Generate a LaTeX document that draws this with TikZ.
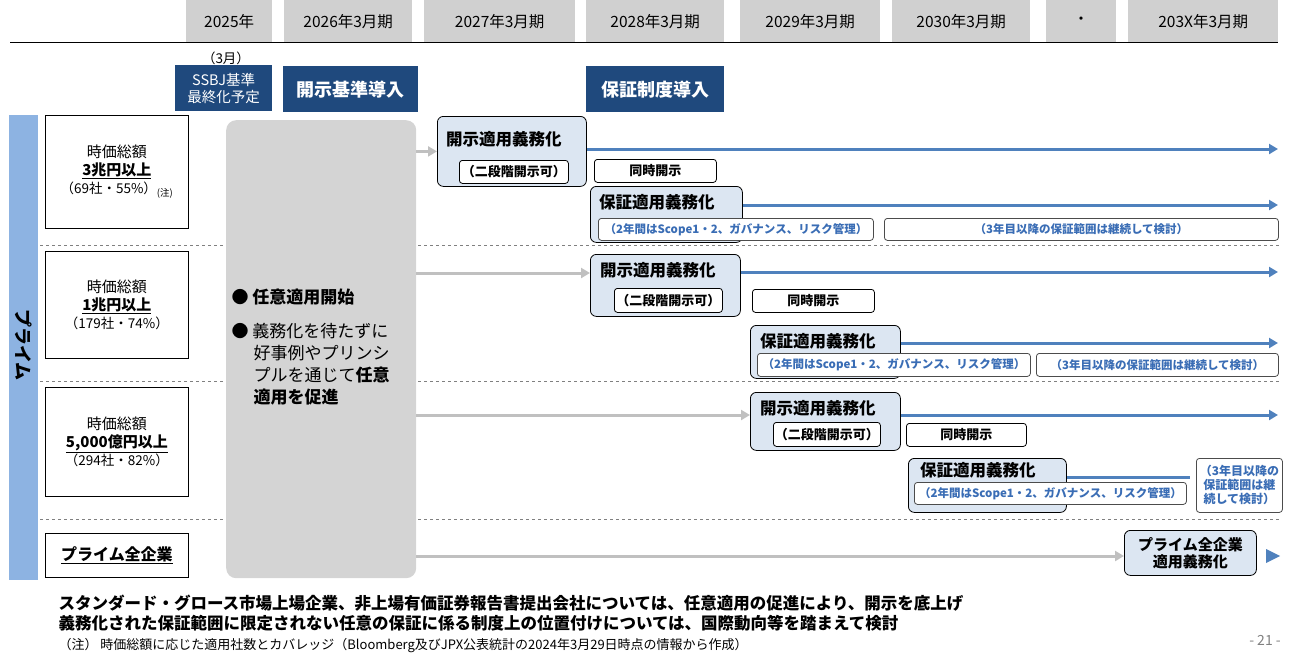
\documentclass[tikz,border=0pt]{standalone}
\usepackage{fontspec}
\setmainfont{Noto Sans CJK JP}
\usetikzlibrary{positioning,arrows.meta}
\definecolor{hdrgray}{HTML}{D0D0D0}
\definecolor{navy}{HTML}{1F497D}
\definecolor{barblue}{HTML}{8DB3E2}
\definecolor{boxblue}{HTML}{DCE6F2}
\definecolor{lineblue}{HTML}{4F81BD}
\definecolor{txtblue}{HTML}{3A6DB5}
\definecolor{arrgray}{HTML}{C0C0C0}
\tikzset{x=1pt, y=-1pt}
\tikzset{hdr/.style={fill=hdrgray,anchor=north west,inner sep=0pt,font=\fontsize{15.5}{17}\selectfont}}
\tikzset{navybox/.style={fill=navy,text=white,anchor=north west,inner sep=0pt,align=center}}
\tikzset{rowbox/.style={draw,thick,fill=white,anchor=north west,inner sep=0pt,align=center,font=\fontsize{15}{18}\selectfont}}
\tikzset{duty/.style={draw,thick,fill=boxblue,rounded corners=6pt,anchor=north west,inner sep=0pt,font=\bfseries\fontsize{16.5}{18}\selectfont}}
\tikzset{title/.style={anchor=north west,inner sep=0pt,font=\bfseries\fontsize{16.5}{18}\selectfont}}
\tikzset{tag/.style={draw,thick,fill=white,rounded corners=3pt,anchor=north west,inner sep=0pt,font=\bfseries\fontsize{13}{15}\selectfont}}
\tikzset{btag/.style={tag,draw=black!70,text=txtblue,font=\bfseries\fontsize{11.5}{13}\selectfont}}
\tikzset{grayarr/.style={draw=arrgray,line width=3pt,-{Triangle[length=9pt,width=10pt]}}}
\tikzset{bluearr/.style={draw=lineblue,line width=3pt,-{Triangle[length=9pt,width=10pt]}}}
\tikzset{sep/.style={draw=gray,dashed,thin}}
\begin{document}
\begin{tikzpicture}
\useasboundingbox (0,0) rectangle (1300,664);
% header
\node[hdr,minimum width=86,minimum height=42] (y25) at (186,0) {2025年};
\node[hdr,minimum width=128,minimum height=42] (y26) at (284,0) {2026年3月期};
\node[hdr,minimum width=151,minimum height=42] (y27) at (424,0) {2027年3月期};
\node[hdr,minimum width=138,minimum height=42] (y28) at (586,0) {2028年3月期};
\node[hdr,minimum width=140,minimum height=42] (y29) at (740,0) {2029年3月期};
\node[hdr,minimum width=138,minimum height=42] (y30) at (892,0) {2030年3月期};
\node[hdr,minimum width=70,minimum height=42] (ydot) at (1046,0) {・};
\node[hdr,minimum width=150,minimum height=42] (y3x) at (1128,0) {203X年3月期};
\coordinate (hl) at (10,42);
\coordinate (hr) at (1278,42);
\draw[thick] (hl) -- (hr);
% milestones
\node[font=\fontsize{13.5}{15}\selectfont] (mar) at (226,58) {（3月）};
\node[navybox,minimum width=97,minimum height=46,font=\fontsize{14.5}{17}\selectfont] (ssbj) at (175,65) {SSBJ基準\\最終化予定};
\node[navybox,minimum width=135,minimum height=46,font=\bfseries\fontsize{18}{20}\selectfont] (kaiji) at (283,66) {開示基準導入};
\node[navybox,minimum width=138,minimum height=46,font=\bfseries\fontsize{18}{20}\selectfont] (hosho) at (586,66) {保証制度導入};
% side bar
\fill[barblue] (9,115) rectangle (38,580);
\node[font=\bfseries\fontsize{18}{20}\selectfont,rotate=-90] (prime) at (24,345) {プライム};
% separators
\foreach \yy in {245,381,519} \draw[sep] (40,\yy) -- (1280,\yy);
% row labels
\node[rowbox,minimum width=143,minimum height=113] (r1) at (45,115) {時価総額\\\underline{\bfseries 3兆円以上}\\{\fontsize{13.5}{16}\selectfont （69社・55\%）\textsubscript{(注)}}};
\node[rowbox,minimum width=143,minimum height=107] (r2) at (45,251) {時価総額\\\underline{\bfseries 1兆円以上}\\{\fontsize{13.5}{16}\selectfont （179社・74\%）}};
\node[rowbox,minimum width=143,minimum height=109] (r3) at (45,387) {時価総額\\\underline{\bfseries 5,000億円以上}\\{\fontsize{13.5}{16}\selectfont （294社・82\%）}};
\node[rowbox,minimum width=143,minimum height=44,font=\bfseries\fontsize{16}{18}\selectfont] (r4) at (45,533) {\underline{プライム全企業}};
% voluntary panel
\node[fill=black!17,rounded corners=10pt,minimum width=190,minimum height=458,anchor=north west,inner sep=0pt] (panel) at (226,120) {};
\node[anchor=west,font=\bfseries\fontsize{17}{19}\selectfont] (v1) at (228,297) {●\ 任意適用開始};
\node[anchor=north west,align=left,font=\fontsize{17}{22}\selectfont] (v2) at (228,320) {●\ 義務化を待たずに\\\hspace{1.3em}好事例やプリンシ\\\hspace{1.3em}プルを通じて\textbf{任意}\\\hspace{1.3em}\textbf{適用を促進}};
% row 1
\node[duty,minimum width=149,minimum height=70] (d1) at (437,116) {};
\node[title] (d1t) at (446,131) {開示適用義務化};
\node[tag,minimum width=109,minimum height=23] (t1) at (459,160) {（二段階開示可）};
\node[tag,minimum width=122,minimum height=23] (s1) at (594,159) {同時開示};
\node[duty,minimum width=152,minimum height=56] (a1) at (590,186) {};
\node[title] (a1t) at (599,194) {保証適用義務化};
\node[btag,minimum width=275,minimum height=22] (b1) at (598,218) {（2年間はScope1・2、ガバナンス、リスク管理）};
\node[btag,minimum width=394,minimum height=22] (c1) at (884,218) {（3年目以降の保証範囲は継続して検討）};
\coordinate (e1) at (1278,149);
\coordinate (f1) at (1278,205);
\draw[grayarr] (panel.east |- d1.west) -- (d1.west);
\draw[bluearr] (d1.east |- e1) -- (e1);
\draw[bluearr] (a1.east |- f1) -- (f1);
% row 2
\node[duty,minimum width=150,minimum height=62] (d2) at (590,254) {};
\node[title] (d2t) at (600,262) {開示適用義務化};
\node[tag,minimum width=108,minimum height=24] (t2) at (614,288) {（二段階開示可）};
\node[tag,minimum width=122,minimum height=23] (s2) at (752,289) {同時開示};
\node[duty,minimum width=150,minimum height=53] (a2) at (750,325) {};
\node[title] (a2t) at (760,333) {保証適用義務化};
\node[btag,minimum width=273,minimum height=23] (b2) at (757,353) {（2年間はScope1・2、ガバナンス、リスク管理）};
\node[btag,minimum width=242,minimum height=23] (c2) at (1036,353) {（3年目以降の保証範囲は継続して検討）};
\coordinate (g2) at (416,273);
\coordinate (e2) at (1278,272);
\coordinate (f2) at (1278,343);
\draw[grayarr] (g2) -- (d2.west |- g2);
\draw[bluearr] (d2.east |- e2) -- (e2);
\draw[bluearr] (a2.east |- f2) -- (f2);
% row 3
\node[duty,minimum width=150,minimum height=58] (d3) at (750,392) {};
\node[title] (d3t) at (760,400) {開示適用義務化};
\node[tag,minimum width=107,minimum height=24] (t3) at (773,422) {（二段階開示可）};
\node[tag,minimum width=120,minimum height=23] (s3) at (906,423) {同時開示};
\node[duty,minimum width=158,minimum height=54] (a3) at (908,458) {};
\node[title] (a3t) at (920,462) {保証適用義務化};
\node[btag,minimum width=272,minimum height=22] (b3) at (914,482) {（2年間はScope1・2、ガバナンス、リスク管理）};
\node[btag,minimum width=86,minimum height=54,align=center,font=\bfseries\fontsize{12}{14}\selectfont] (c3) at (1196,458) {（3年目以降の\\保証範囲は継\\続して検討）};
\coordinate (g3) at (416,415);
\coordinate (e3) at (1278,415);
\coordinate (f3) at (1190,477);
\draw[grayarr] (g3) -- (d3.west |- g3);
\draw[bluearr] (d3.east |- e3) -- (e3);
\draw[draw=lineblue,line width=3pt] (a3.east |- f3) -- (f3);
% row 4
\node[duty,minimum width=132,minimum height=45,align=center,font=\bfseries\fontsize{15}{17}\selectfont] (d4) at (1124,530) {プライム全企業\\適用義務化};
\coordinate (g4) at (416,556);
\draw[grayarr] (g4) -- (d4.west |- g4);
\fill[lineblue] (1266,549) -- (1280,556) -- (1266,563) -- cycle;
% footer
\node[anchor=west,font=\bfseries\fontsize{16.5}{18}\selectfont] (n1) at (55,603) {スタンダード・グロース市場上場企業、非上場有価証券報告書提出会社については、任意適用の促進により、開示を底上げ};
\node[anchor=west,font=\bfseries\fontsize{16.5}{18}\selectfont] (n2) at (55,623) {義務化された保証範囲に限定されない任意の保証に係る制度上の位置付けについては、国際動向等を踏まえて検討};
\node[anchor=west,font=\fontsize{13}{15}\selectfont] (n3) at (55,646) {（注）\ 時価総額に応じた適用社数とカバレッジ（Bloomberg及びJPX公表統計の2024年3月29日時点の情報から作成）};
\node[text=gray,font=\fontsize{14}{16}\selectfont] (pg) at (1265,640) {- 21 -};
\end{tikzpicture}
\end{document}
